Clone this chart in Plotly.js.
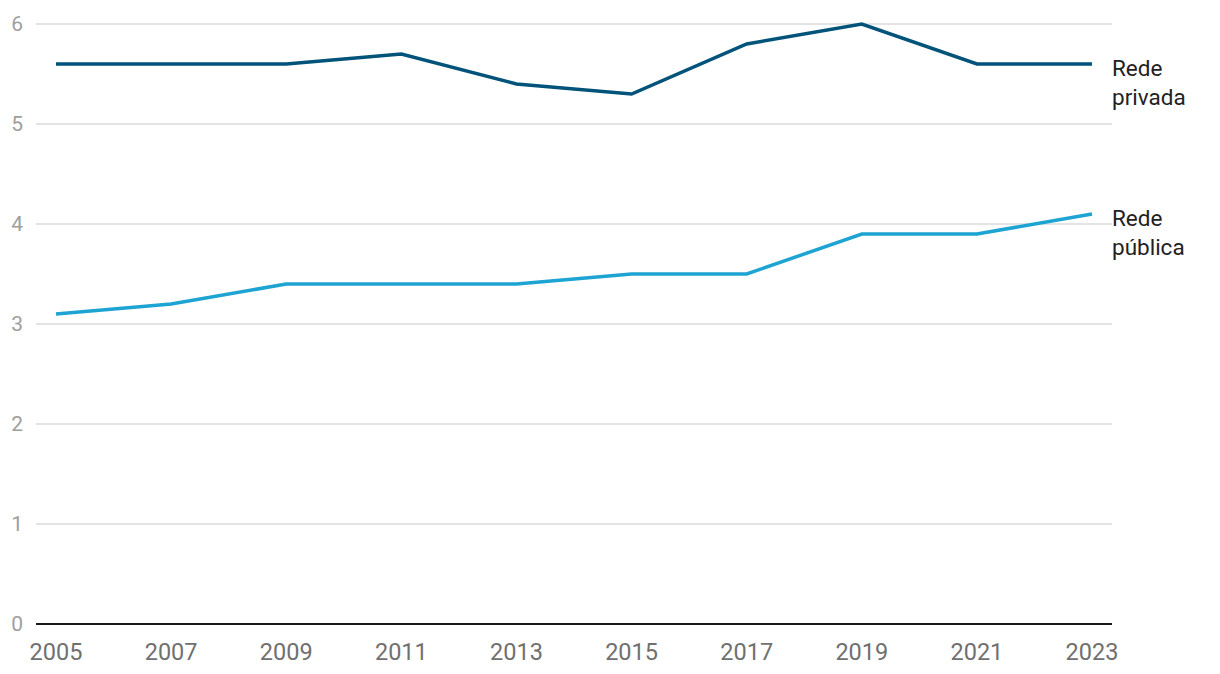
<!DOCTYPE html>
<html>
<head>
<meta charset="utf-8">
<script src="https://cdn.plot.ly/plotly-3.0.1.min.js"></script>
<style>
  html, body { margin: 0; padding: 0; background: #fff; }
  #chart { width: 1220px; height: 674px; }
</style>
</head>
<body>
<div id="chart"></div>
<script>
const years = [2005, 2007, 2009, 2011, 2013, 2015, 2017, 2019, 2021, 2023];
const privada = [5.6, 5.6, 5.6, 5.7, 5.4, 5.3, 5.8, 6.0, 5.6, 5.6];
const publica = [3.1, 3.2, 3.4, 3.4, 3.4, 3.5, 3.5, 3.9, 3.9, 4.1];
const seriesNames = ["Rede<br>privada", "Rede<br>pública"];
const seriesColors = ["#02537a", "#1ea4d2"];

const font = "Roboto, 'Open Sans', sans-serif";

const traces = [privada, publica].map((vals, i) => ({
  type: "scatter",
  mode: "lines",
  x: years,
  y: vals,
  line: { width: 3.5, color: seriesColors[i] },
  hoverinfo: "x+y",
  showlegend: false
}));

const last = years.length - 1;
const annotations = [privada, publica].map((vals, i) => ({
  x: years[last],
  y: vals[last],
  xref: "x",
  yref: "y",
  text: seriesNames[i],
  showarrow: false,
  xanchor: "left",
  yanchor: "top",
  align: "left",
  xshift: 18,
  yshift: 11,
  font: { family: font, size: 22.5, color: "#222" }
}));

const layout = {
  width: 1220,
  height: 674,
  margin: { l: 36, r: 108, t: 19, b: 50 },
  paper_bgcolor: "#fff",
  plot_bgcolor: "#fff",
  font: { family: font },
  xaxis: {
    range: [2004.6525, 2023.347],
    tickvals: years,
    ticktext: years.map(String),
    showgrid: false,
    zeroline: false,
    showline: false,
    ticks: "",
    ticklabelstandoff: 11,
    tickfont: { family: font, size: 23.5, color: "#707070" }
  },
  yaxis: {
    range: [0, 6.05],
    tickvals: [0, 1, 2, 3, 4, 5, 6],
    showgrid: true,
    gridcolor: "#e3e3e3",
    gridwidth: 1.5,
    zeroline: true,
    zerolinecolor: "#1a1a1a",
    zerolinewidth: 2,
    showline: false,
    ticks: "",
    ticklabelstandoff: 12,
    tickfont: { family: font, size: 21, color: "#9e9e9e" }
  },
  annotations: annotations
};

Plotly.newPlot("chart", traces, layout, { displayModeBar: false, staticPlot: true });
</script>
</body>
</html>
